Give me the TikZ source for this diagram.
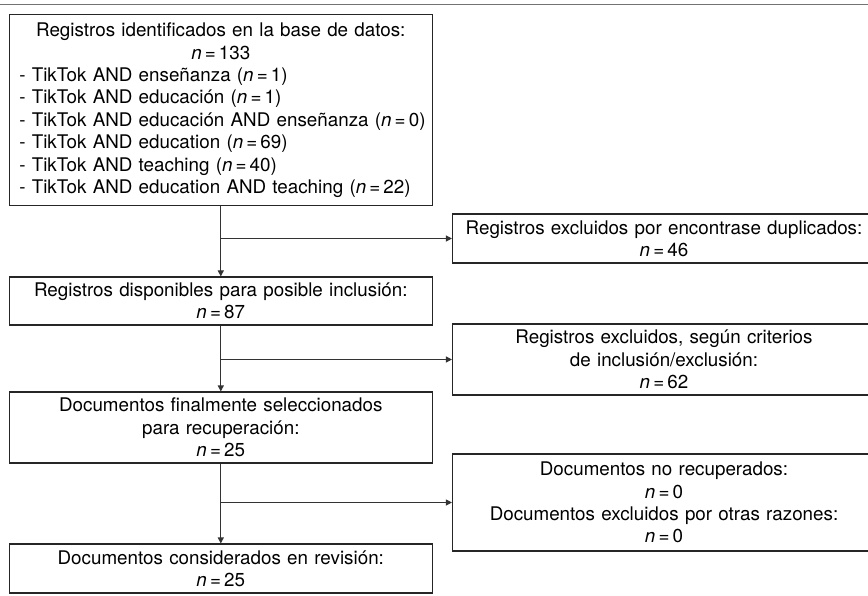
\documentclass[tikz,border=0pt]{standalone}
\usepackage{fontspec}
\setmainfont{TeX Gyre Heros}
\usetikzlibrary{arrows.meta}
\newcommand{\nn}[1]{\textit{n}\,=\,#1}
\begin{document}
\begin{tikzpicture}[x=1pt,y=-1pt,
  every node/.style={font=\fontsize{18.8}{22.4}\selectfont, text=black},
  box/.style={draw=black!85, line width=1.1pt, rectangle, inner xsep=10pt, inner ysep=0pt,
    text width=403pt, align=center, minimum width=423pt},
  arr/.style={draw=black!80, line width=1.1pt, -{Triangle[length=6pt,width=6pt]}},
]
\useasboundingbox (0,0) rectangle (868,596);
\draw[black!55, line width=1.4pt] (0,4.3) -- (868,4.3);

\node[box, align=left, minimum height=191.3pt] (b1) at (220.8,110.3) {%
\makebox[403pt][c]{Registros identificados en la base de datos:}\\
\makebox[403pt][c]{\nn{133}}\\
\mbox{- TikTok AND enseñanza (\nn{1})}\\
\mbox{- TikTok AND educación (\nn{1})}\\
\mbox{- TikTok AND educación AND enseñanza (\nn{0})}\\
\mbox{- TikTok AND education (\nn{69})}\\
\mbox{- TikTok AND teaching (\nn{40})}\\
\mbox{- TikTok AND education AND teaching (\nn{22})}};

\node[box, minimum height=48pt] (b2) at (220.8,301) {Registros disponibles para posible inclusión:\\ \nn{87}};
\node[box, minimum height=71pt] (b3) at (220.8,427.5) {Documentos finalmente seleccionados\\ para recuperación:\\ \nn{25}};
\node[box, minimum height=49pt] (b4) at (220.8,568.5) {Documentos considerados en revisión:\\ \nn{25}};

\node[box, minimum height=49pt] (r1) at (664,238.5) {Registros excluidos por encontrase duplicados:\\ \nn{46}};
\node[box, minimum height=71pt] (r2) at (664,359.5) {Registros excluidos, según criterios\\ de inclusión/exclusión:\\ \nn{62}};
\node[box, minimum height=97pt] (r3) at (664,502.5) {Documentos no recuperados:\\ \nn{0}\\ Documentos excluidos por otras razones:\\ \nn{0}};

\draw[arr] (b1.south) -- (b2.north);
\draw[arr] (b1.south |- r1.west) -- (r1.west);
\draw[arr] (b2.south) -- (b3.north);
\draw[arr] (b2.south |- r2.west) -- (r2.west);
\draw[arr] (b3.south) -- (b4.north);
\draw[arr] (b3.south |- r3.west) -- (r3.west);
\end{tikzpicture}
\end{document}
